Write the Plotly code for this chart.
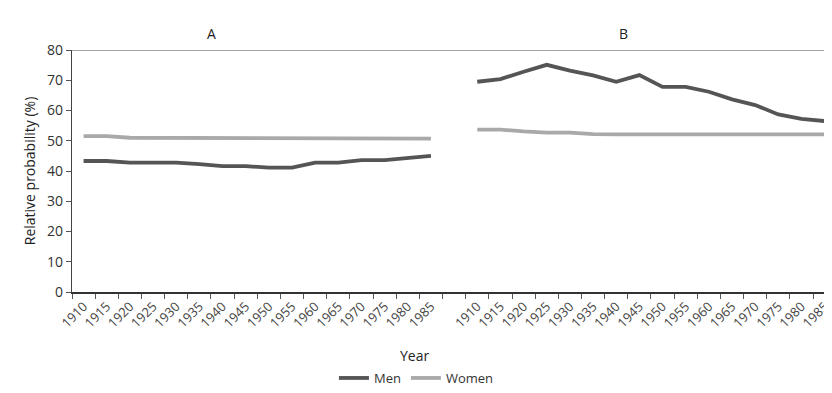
import plotly.graph_objects as go

years = [1910, 1915, 1920, 1925, 1930, 1935, 1940, 1945, 1950, 1955,
         1960, 1965, 1970, 1975, 1980, 1985]
year_labels = [str(y) for y in years]

a_men = [43.3, 43.3, 42.8, 42.8, 42.8, 42.3, 41.6, 41.6, 41.1, 41.1,
         42.8, 42.8, 43.6, 43.6, 44.2, 45.0]
a_women = [51.5, 51.5, 51.0, 51.0, 51.0, 51.0, 50.7, 50.7, 50.7, 50.7,
           50.7, 50.7, 50.7, 50.7, 50.7, 50.7]
b_men = [69.5, 70.4, 72.8, 75.1, 73.2, 71.6, 69.5, 71.7, 67.8, 67.8,
         66.2, 63.7, 61.8, 58.7, 57.2, 56.5]
b_women = [53.7, 53.7, 53.1, 52.7, 52.7, 52.2, 52.1, 52.1, 52.1, 52.1,
           52.1, 52.1, 52.1, 52.1, 52.1, 52.1]

groups = ["A", "B"]
series_names = ["Men", "Women"]
colors = {"Men": "#555555", "Women": "#a9a9a9"}

n = len(years)
xa = list(range(n))
xb = [n + 1 + i for i in range(n)]

fig = go.Figure()
FONT = "Open Sans, Noto Sans, sans-serif"

fig.add_trace(go.Scatter(x=xa, y=a_men, mode="lines", name="Men", legendgroup="Men",
                         line=dict(color=colors["Men"], width=3.8)))
fig.add_trace(go.Scatter(x=xa, y=a_women, mode="lines", name="Women", legendgroup="Women",
                         line=dict(color=colors["Women"], width=3.8)))
fig.add_trace(go.Scatter(x=xb, y=b_men, mode="lines", name="Men", legendgroup="Men",
                         showlegend=False, line=dict(color=colors["Men"], width=3.8)))
fig.add_trace(go.Scatter(x=xb, y=b_women, mode="lines", name="Women", legendgroup="Women",
                         showlegend=False, line=dict(color=colors["Women"], width=3.8)))

tickvals = xa + xb
ticktext = year_labels + year_labels

step = 23.25
plot_w = 760
fig.update_layout(
    width=824, height=385,
    margin=dict(l=64, r=0, t=42, b=93.3),
    plot_bgcolor="white", paper_bgcolor="white",
    font=dict(family=FONT, color="#333333", size=13),
    showlegend=True,
    legend=dict(orientation="h", x=0.455, xanchor="center", y=-0.357, yanchor="middle",
                font=dict(size=13, color="#333333"), itemwidth=30,
                tracegroupgap=0),
    xaxis=dict(
        range=[-0.5, -0.5 + plot_w / step],
        tickmode="array", tickvals=tickvals, ticktext=ticktext,
        tickangle=-45, ticks="", tickfont=dict(size=13, color="#444444"),
        ticklabeloverflow="allow",
        showline=True, linecolor="#333333", linewidth=1.5,
        showgrid=False, zeroline=False,
        minor=dict(tickmode="linear", tick0=-0.5, dtick=1, ticks="outside",
                   ticklen=5, tickcolor="#555555", tickwidth=1, showgrid=False),
    ),
    yaxis=dict(
        range=[0, 80], tickmode="linear", tick0=0, dtick=10,
        ticks="outside", ticklen=5, tickcolor="#555555",
        tickfont=dict(size=14, color="#333333"),
        showline=True, linecolor="#444444", linewidth=1.2,
        showgrid=False, zeroline=False,
        title=dict(text="Relative probability (%)", font=dict(size=14, color="#222222"),
                   standoff=8),
    ),
)

# top frame line
fig.add_shape(type="line", xref="paper", yref="y", x0=0, x1=1, y0=80, y1=80,
              line=dict(color="#888888", width=1.5))

# group labels
fig.add_annotation(text=groups[0], x=5.52, xref="x", y=1, yref="paper", yshift=28,
                   showarrow=False, font=dict(size=14, color="#222222"))
fig.add_annotation(text=groups[1], x=23.33, xref="x", y=1, yref="paper", yshift=28,
                   showarrow=False, font=dict(size=14, color="#222222"))

# x-axis title
fig.add_annotation(text="Year", x=0.452, xref="paper", xanchor="center",
                   y=-0.262, yref="paper", yanchor="middle", showarrow=False,
                   font=dict(size=14, color="#222222"))

fig.write_html("out.html")
